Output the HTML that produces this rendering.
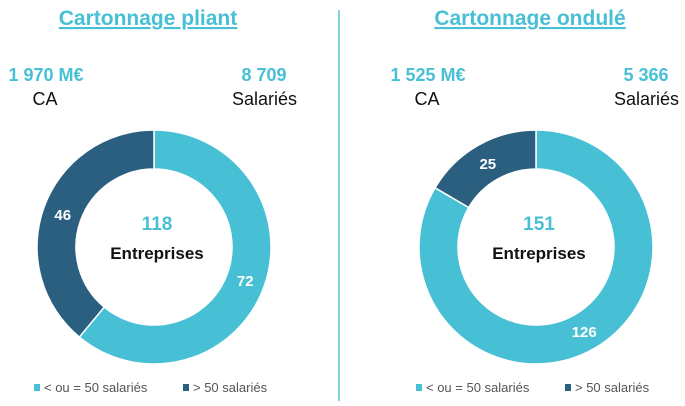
<!DOCTYPE html>
<html><head><meta charset="utf-8"><style>
body{margin:0;width:685px;height:401px;background:#fff;overflow:hidden;font-family:"Liberation Sans",sans-serif}
</style></head><body>
<svg width="685" height="401">
<line x1="339" y1="10" x2="339" y2="401" stroke="#5cc3d8" stroke-width="1.5"/>
<g id="charts"></g>
</svg>
<script>
const titles=["Cartonnage pliant","Cartonnage ondulé"];
const caValues=["1 970 M€","1 525 M€"];
const salaries=["8 709","5 366"];
const smallCounts=[72,126];
const largeCounts=[46,25];
const legendLabels=["< ou = 50 salariés","> 50 salariés"];
const colors=["#47c0d5","#2a5f80"];
const ns="http://www.w3.org/2000/svg";
const root=document.getElementById('charts');
function mk(tag,attrs,text){const e=document.createElementNS(ns,tag);for(const k in attrs)e.setAttribute(k,attrs[k]);if(text!==undefined)e.textContent=text;root.appendChild(e);return e;}
const offsets=[0,382];
const cxs=[154,536], cy=247, R=117, r=78, rl=97;
function pt(cx,rad,a){return [cx+rad*Math.sin(a),cy-rad*Math.cos(a)];}
for(let i=0;i<2;i++){
  const ox=offsets[i], cx=cxs[i];
  let t=mk('text',{x:148+ox,y:25,'text-anchor':'middle','font-size':21,'font-weight':'bold',fill:'#47c0d5','text-decoration':'underline'},titles[i]);
  
  
  t=mk('text',{x:46+ox,y:81,'text-anchor':'middle','font-size':18,'font-weight':'bold',fill:'#47c0d5'},caValues[i]);
  
  
  t=mk('text',{x:45+ox,y:105,'text-anchor':'middle','font-size':18,fill:'#111'},"CA");
  
  
  t=mk('text',{x:264+ox,y:81,'text-anchor':'middle','font-size':18,'font-weight':'bold',fill:'#47c0d5'},salaries[i]);
  
  
  t=mk('text',{x:297+ox,y:105,'text-anchor':'end','font-size':18,fill:'#111'},"Salariés");
  
  
  const vals=[smallCounts[i],largeCounts[i]];
  const total=vals[0]+vals[1];
  let a0=0;
  for(let j=0;j<2;j++){
    const a1=a0+vals[j]/total*2*Math.PI;
    const large=(a1-a0)>Math.PI?1:0;
    const p1=pt(cx,R,a0),p2=pt(cx,R,a1),p3=pt(cx,r,a1),p4=pt(cx,r,a0);
    const d=`M${p1}A${R},${R} 0 ${large} 1 ${p2}L${p3}A${r},${r} 0 ${large} 0 ${p4}Z`;
    const s=mk('path',{d:d,fill:colors[j],stroke:'#fff','stroke-width':1.5});
    
    
    const am=(a0+a1)/2, lp=pt(cx,rl,am);
    const l=mk('text',{x:lp[0],y:lp[1]+6,'text-anchor':'middle','font-size':15,'font-weight':'bold',fill:'#fff'},vals[j]);
    
    
    a0=a1;
  }
  t=mk('text',{x:cx+3,y:230,'text-anchor':'middle','font-size':19,'font-weight':'bold',fill:'#47c0d5'},total);
  
  
  t=mk('text',{x:cx+3,y:259,'text-anchor':'middle','font-size':17,'font-weight':'bold',fill:'#111'},"Entreprises");
  
  
  const lx=[34+ox,183+ox];
  for(let j=0;j<2;j++){
    const sq=mk('rect',{x:lx[j],y:384,width:6,height:7,fill:colors[j]});
    
    
    const lt=mk('text',{x:lx[j]+10,y:392,'font-size':13,fill:'#555'},legendLabels[j]);
    
    
  }
}
</script>
</body></html>
